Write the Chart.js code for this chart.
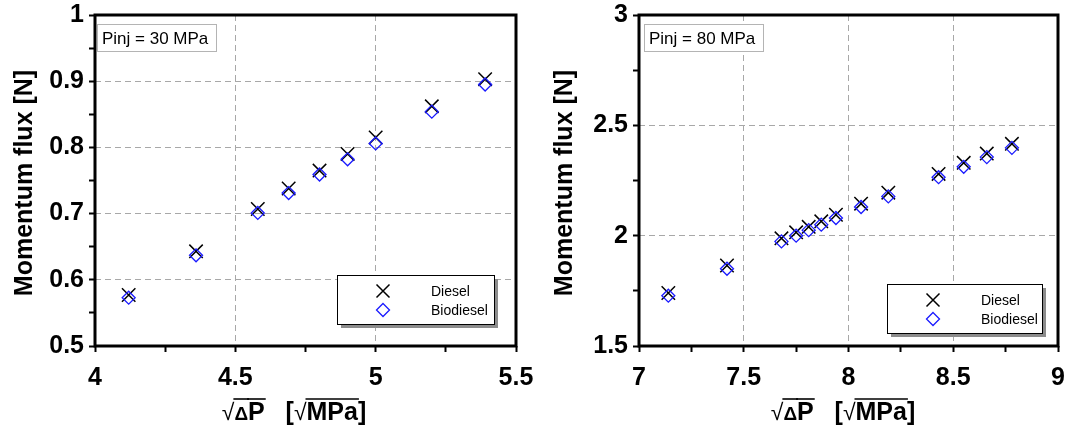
<!DOCTYPE html>
<html>
<head>
<meta charset="utf-8">
<script src="https://cdn.jsdelivr.net/npm/chart.js@4.4.1/dist/chart.umd.min.js"></script>
<style>
  html, body { margin: 0; padding: 0; background: #fff; }
  #wrap { position: relative; width: 1072px; height: 432px; }
  .box { position: absolute; top: 0; height: 432px; }
</style>
</head>
<body>
<div id="wrap">
  <div class="box" style="left:0;width:540px"><canvas id="left" width="540" height="432"></canvas></div>
  <div class="box" style="left:540px;width:532px"><canvas id="right" width="532" height="432"></canvas></div>
</div>
<script>
// Pinj = 30 MPa
const sqrtDpLow = [4.12, 4.36, 4.58, 4.69, 4.80, 4.90, 5.00, 5.20, 5.39];
const dieselLow = [0.577, 0.643, 0.707, 0.738, 0.765, 0.790, 0.815, 0.862, 0.903];
const biodieselLow = [0.573, 0.637, 0.701, 0.731, 0.759, 0.782, 0.806, 0.854, 0.895];

// Pinj = 80 MPa
const sqrtDpHigh = [7.14, 7.42, 7.68, 7.75, 7.81, 7.87, 7.94, 8.06, 8.19, 8.43, 8.55, 8.66, 8.78];
const dieselHigh = [1.740, 1.865, 1.988, 2.015, 2.040, 2.065, 2.095, 2.145, 2.195, 2.280, 2.330, 2.372, 2.416];
const biodieselHigh = [1.728, 1.850, 1.974, 2.000, 2.025, 2.050, 2.080, 2.130, 2.178, 2.265, 2.312, 2.356, 2.398];

const seriesNames = ['Diesel', 'Biodiesel'];
const BLUE = '#1a1aff';
const FONT = '"Liberation Sans", Arial, sans-serif';

function isMajor(v, step) {
    return Math.abs(v / step - Math.round(v / step)) < 1e-6;
}

function drawCross(ctx, x, y, r) {
    ctx.save();
    ctx.strokeStyle = '#000';
    ctx.lineWidth = 1.5;
    ctx.beginPath();
    ctx.moveTo(x - r, y - r); ctx.lineTo(x + r, y + r);
    ctx.moveTo(x - r, y + r); ctx.lineTo(x + r, y - r);
    ctx.stroke();
    ctx.restore();
}

function drawDiamond(ctx, x, y, r) {
    ctx.save();
    ctx.strokeStyle = BLUE;
    ctx.lineWidth = 1.3;
    ctx.beginPath();
    ctx.moveTo(x, y - r); ctx.lineTo(x + r, y); ctx.lineTo(x, y + r); ctx.lineTo(x - r, y);
    ctx.closePath();
    ctx.stroke();
    ctx.restore();
}

function decorPlugin(cfg) {
    return {
        id: 'decor',
        afterDraw(chart) {
            const ctx = chart.ctx;
            const a = chart.chartArea;
            ctx.save();

            // frame
            ctx.strokeStyle = '#000';
            ctx.lineWidth = 3;
            ctx.strokeRect(a.left, a.top, a.right - a.left, a.bottom - a.top);

            // pressure box
            ctx.lineWidth = 1;
            ctx.strokeStyle = '#b4b4b4';
            ctx.fillStyle = '#fff';
            ctx.fillRect(cfg.tag.x, cfg.tag.y, 119, 27);
            ctx.strokeRect(cfg.tag.x + 0.5, cfg.tag.y + 0.5, 119, 27);
            ctx.fillStyle = '#000';
            ctx.font = '17px ' + FONT;
            ctx.textAlign = 'left';
            ctx.textBaseline = 'alphabetic';
            ctx.fillText(cfg.tag.text, cfg.tag.x + 5, cfg.tag.y + 20);

            // legend with shadow
            const L = cfg.legend;
            ctx.fillStyle = '#8c8c8c';
            ctx.fillRect(L.x + 4, L.y + 4, L.w, L.h);
            ctx.fillStyle = '#fff';
            ctx.fillRect(L.x, L.y, L.w, L.h);
            ctx.strokeStyle = '#000';
            ctx.strokeRect(L.x + 0.5, L.y + 0.5, L.w, L.h);
            drawCross(ctx, L.x + 46, L.y + 16, 6.5);
            drawDiamond(ctx, L.x + 46, L.y + 35, 6.5);
            ctx.fillStyle = '#000';
            ctx.font = '14px ' + FONT;
            ctx.fillText(seriesNames[0], L.x + 94, L.y + 21);
            ctx.fillText(seriesNames[1], L.x + 94, L.y + 40);

            // y title
            ctx.save();
            ctx.translate(cfg.yTitleX, 183);
            ctx.rotate(-Math.PI / 2);
            ctx.textAlign = 'center';
            ctx.textBaseline = 'middle';
            ctx.font = 'bold 25px ' + FONT;
            ctx.fillText('Momentum flux [N]', 0, 0);
            ctx.restore();

            // x title: sqrt(ΔP)  [sqrt(MPa)]
            const base = 420;
            const parts = [
                { t: '\u221A', f: '23px ' + FONT },
                { t: '\u0394', f: 'bold 19px ' + FONT, over: true },
                { t: 'P', f: 'bold 25px ' + FONT, over: true },
                { t: '   [', f: 'bold 25px ' + FONT },
                { t: '\u221A', f: '23px ' + FONT },
                { t: 'MPa', f: 'bold 25px ' + FONT, over: true },
                { t: ']', f: 'bold 25px ' + FONT }
            ];
            let total = 0;
            parts.forEach(p => { ctx.font = p.f; p.w = ctx.measureText(p.t).width; total += p.w; });
            let x = cfg.xTitleX - total / 2;
            ctx.textAlign = 'left';
            ctx.textBaseline = 'alphabetic';
            ctx.lineWidth = 1.6;
            ctx.strokeStyle = '#000';
            parts.forEach(p => {
                ctx.font = p.f;
                ctx.fillText(p.t, x, base);
                if (p.over) {
                    ctx.beginPath();
                    ctx.moveTo(x - 1, base - 21);
                    ctx.lineTo(x + p.w + 1, base - 21);
                    ctx.stroke();
                }
                x += p.w;
            });

            ctx.restore();
        }
    };
}

function makeChart(id, xs, diesel, bio, c) {
    const toPts = ys => xs.map((x, i) => ({ x: x, y: ys[i] }));
    const tickFont = { family: FONT, size: 25, weight: 'bold', lineHeight: 1 };

    return new Chart(document.getElementById(id), {
        type: 'scatter',
        data: {
            datasets: [
                {
                    label: seriesNames[0],
                    data: toPts(diesel),
                    pointStyle: 'crossRot',
                    pointRadius: 9.5,
                    pointBorderColor: '#000',
                    pointBorderWidth: 1.5,
                    order: 2
                },
                {
                    label: seriesNames[1],
                    data: toPts(bio),
                    pointStyle: 'rectRot',
                    pointRadius: 6.5,
                    pointBackgroundColor: 'rgba(0,0,0,0)',
                    pointBorderColor: BLUE,
                    pointBorderWidth: 1.3,
                    order: 1
                }
            ]
        },
        options: {
            responsive: false,
            animation: false,
            layout: { padding: { left: 0, top: 15, right: c.padRight, bottom: 0 } },
            plugins: { legend: { display: false }, tooltip: { enabled: false } },
            scales: {
                x: {
                    type: 'linear',
                    min: c.xMin, max: c.xMax,
                    afterFit: s => { s.height = 86; s.paddingLeft = 0; s.paddingRight = 0; },
                    ticks: {
                        stepSize: c.xStep / 2,
                        color: '#000',
                        font: tickFont,
                        padding: 14,
                        maxRotation: 0,
                        autoSkip: false,
                        callback: v => isMajor(v, c.xStep) ? String(+v.toFixed(2)) : ''
                    },
                    grid: {
                        color: g => (g.tick && isMajor(g.tick.value, c.xStep) && g.tick.value > c.xMin && g.tick.value < c.xMax) ? '#a8a8a8' : 'rgba(0,0,0,0)',
                        lineWidth: 1,
                        tickColor: '#000',
                        tickWidth: 2,
                        tickLength: 6
                    },
                    border: { display: false, dash: [6, 4] }
                },
                y: {
                    type: 'linear',
                    min: c.yMin, max: c.yMax,
                    afterFit: s => { s.width = c.yWidth; s.paddingTop = 0; s.paddingBottom = 0; },
                    ticks: {
                        stepSize: c.yStep / 2,
                        color: '#000',
                        font: tickFont,
                        padding: 5,
                        autoSkip: false,
                        callback: v => isMajor(v, c.yStep) ? String(+v.toFixed(2)) : ''
                    },
                    grid: {
                        color: g => (g.tick && isMajor(g.tick.value, c.yStep) && g.tick.value > c.yMin && g.tick.value < c.yMax) ? '#a8a8a8' : 'rgba(0,0,0,0)',
                        lineWidth: 1,
                        tickColor: '#000',
                        tickWidth: 2,
                        tickLength: 6
                    },
                    border: { display: false, dash: [6, 4] }
                }
            }
        },
        plugins: [decorPlugin(c)]
    });
}

makeChart('left', sqrtDpLow, dieselLow, biodieselLow, {
    xMin: 4, xMax: 5.5, xStep: 0.5,
    yMin: 0.5, yMax: 1, yStep: 0.1,
    yWidth: 95, padRight: 24,
    tag: { x: 97, y: 24, text: 'Pinj = 30 MPa' },
    legend: { x: 337, y: 275, w: 157, h: 49 },
    yTitleX: 25, xTitleX: 294
});

makeChart('right', sqrtDpHigh, dieselHigh, biodieselHigh, {
    xMin: 7, xMax: 9, xStep: 0.5,
    yMin: 1.5, yMax: 3, yStep: 0.5,
    yWidth: 99, padRight: 14,
    tag: { x: 104, y: 24, text: 'Pinj = 80 MPa' },
    legend: { x: 347, y: 284, w: 155, h: 49 },
    yTitleX: 25, xTitleX: 303
});
</script>
</body>
</html>
